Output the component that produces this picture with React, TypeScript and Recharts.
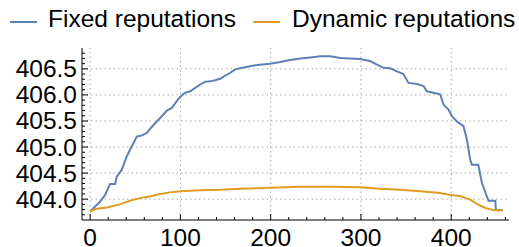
import React from 'react';
import { LineChart, Line, XAxis, YAxis, ReferenceLine } from 'recharts';

// Fixed reputations (blue)
const fixedX = [0, 5.5, 10, 16.6, 22, 27.7, 29.5, 35, 40.6, 46, 51.7, 57, 62.8, 68, 73.8, 79.4, 85, 90.5, 96, 99.7, 105, 110.8, 116, 122, 127, 133, 138.5, 144, 149.6, 155, 160.7, 166, 171.7, 177, 183, 188, 199.4, 210.5, 221.6, 232.7, 243.8, 255, 266, 277, 288, 299, 310, 317.7, 325, 332.4, 339.8, 347, 352.7, 362, 369.3, 373, 380.4, 387.8, 391.5, 397, 400.7, 406.3, 413.6, 417.4, 421, 422.9, 430, 434, 439.5, 441.3, 448.8, 449.5, 457];
const fixedY = [403.76, 403.86, 403.93, 404.08, 404.29, 404.29, 404.43, 404.56, 404.82, 405.01, 405.2, 405.22, 405.27, 405.38, 405.49, 405.59, 405.7, 405.75, 405.88, 405.96, 406.04, 406.07, 406.13, 406.2, 406.25, 406.26, 406.28, 406.31, 406.37, 406.42, 406.49, 406.51, 406.53, 406.55, 406.57, 406.58, 406.6, 406.63, 406.67, 406.7, 406.72, 406.74, 406.74, 406.71, 406.7, 406.69, 406.65, 406.58, 406.52, 406.51, 406.45, 406.4, 406.23, 406.21, 406.17, 406.07, 406.04, 406.01, 405.81, 405.72, 405.59, 405.49, 405.4, 405.14, 404.76, 404.66, 404.66, 404.31, 404.05, 403.97, 403.97, 403.79, 403.79];

// Dynamic reputations (orange)
const dynX = [0, 5.5, 18.5, 33, 44, 55, 66.5, 77.6, 88.6, 99.7, 122, 144, 166, 184.7, 199.4, 232.7, 266, 299, 321, 343.5, 365.7, 387.8, 399, 410, 421, 428.5, 437.7, 447, 457];
const dynY = [403.76, 403.81, 403.84, 403.9, 403.97, 404.02, 404.05, 404.1, 404.13, 404.15, 404.17, 404.18, 404.2, 404.21, 404.22, 404.24, 404.24, 404.23, 404.2, 404.18, 404.15, 404.12, 404.08, 404.06, 403.99, 403.91, 403.83, 403.79, 403.78];

const xMajor = [0, 100, 200, 300, 400];
const xTicks = [0, 20, 40, 60, 80, 100, 120, 140, 160, 180, 200, 220, 240, 260, 280, 300, 320, 340, 360, 380, 400, 420, 440, 460];
const yMajor = [404.0, 404.5, 405.0, 405.5, 406.0, 406.5];
const yTicks = [403.7, 403.8, 403.9, 404.0, 404.1, 404.2, 404.3, 404.4, 404.5, 404.6, 404.7, 404.8, 404.9, 405.0, 405.1, 405.2, 405.3, 405.4, 405.5, 405.6, 405.7, 405.8, 405.9, 406.0, 406.1, 406.2, 406.3, 406.4, 406.5, 406.6, 406.7, 406.8];

const fixedData = fixedX.map((x, i) => ({ x, y: fixedY[i] }));
const dynData = dynX.map((x, i) => ({ x, y: dynY[i] }));

const BLUE = '#5E81B5';
const ORANGE = '#E19C24';
const FONT = '"Liberation Sans", Arial, sans-serif';
const FS = 24.5;
const X_DOMAIN: [number, number] = [-9, 464];
const Y_DOMAIN: [number, number] = [403.6, 406.9];

const isMajor = (list: number[], v: number) => list.some((m) => Math.abs(m - v) < 1e-6);

const LeftTick = (props: any) => {
  const { x, y, payload } = props;
  const major = isMajor(yMajor, payload.value);
  return (
    <g>
      <line x1={x} x2={x + (major ? 6 : 3)} y1={y} y2={y} stroke="#000" />
      {major && (
        <text x={x - 5} y={y + 8.5} textAnchor="end" fontFamily={FONT} fontSize={FS} fill="#000">
          {payload.value.toFixed(1)}
        </text>
      )}
    </g>
  );
};

const RightTick = (props: any) => {
  const { x, y, payload } = props;
  const major = isMajor(yMajor, payload.value);
  return <line x1={x} x2={x - (major ? 6 : 3)} y1={y} y2={y} stroke="#000" />;
};

const BottomTick = (props: any) => {
  const { x, y, payload } = props;
  const major = isMajor(xMajor, payload.value);
  return (
    <g>
      <line x1={x} x2={x} y1={y} y2={y - (major ? 6 : 3)} stroke="#000" />
      {major && (
        <text x={x} y={y + 26} textAnchor="middle" fontFamily={FONT} fontSize={FS} fill="#000">
          {payload.value}
        </text>
      )}
    </g>
  );
};

const TopTick = (props: any) => {
  const { x, y, payload } = props;
  const major = isMajor(xMajor, payload.value);
  return <line x1={x} x2={x} y1={y} y2={y + (major ? 6 : 3)} stroke="#000" />;
};

const App: React.FC = () => {
  return (
    <div style={{ position: 'absolute', left: 0, top: 0, width: 519, height: 247 }}>
      <svg width={519} height={40} style={{ position: 'absolute', left: 0, top: 0 }}>
        <line x1={10} x2={37} y1={22} y2={22} stroke={BLUE} strokeWidth={2} />
        <text x={48} y={27} fontFamily={FONT} fontSize={FS} fill="#000">Fixed reputations</text>
        <line x1={253} x2={280} y1={22} y2={22} stroke={ORANGE} strokeWidth={2} />
        <text x={292} y={27} fontFamily={FONT} fontSize={FS} fill="#000">Dynamic reputations</text>
      </svg>
      <LineChart width={519} height={247} margin={{ top: 48, right: 10, bottom: 0, left: 0 }}>
        <XAxis
          xAxisId="b"
          type="number"
          dataKey="x"
          domain={X_DOMAIN}
          allowDataOverflow
          ticks={xTicks}
          interval={0}
          height={27}
          tickSize={0}
          tickMargin={0}
          tick={<BottomTick />}
          axisLine={{ stroke: '#000' }}
        />
        <XAxis
          xAxisId="t"
          orientation="top"
          type="number"
          dataKey="x"
          domain={X_DOMAIN}
          allowDataOverflow
          ticks={xTicks}
          interval={0}
          height={0}
          tickSize={0}
          tickMargin={0}
          tick={<TopTick />}
          axisLine={{ stroke: '#000' }}
        />
        <YAxis
          yAxisId="l"
          type="number"
          domain={Y_DOMAIN}
          allowDataOverflow
          ticks={yTicks}
          interval={0}
          width={82}
          tickSize={0}
          tickMargin={0}
          tick={<LeftTick />}
          axisLine={{ stroke: '#000' }}
        />
        <YAxis
          yAxisId="r"
          orientation="right"
          type="number"
          domain={Y_DOMAIN}
          allowDataOverflow
          ticks={yTicks}
          interval={0}
          width={0}
          tickSize={0}
          tickMargin={0}
          tick={<RightTick />}
          axisLine={{ stroke: '#000' }}
        />
        {xMajor.map((v) => (
          <ReferenceLine key={'gx' + v} xAxisId="b" yAxisId="l" x={v} stroke="#aaa" strokeDasharray="1.5 3" />
        ))}
        {yMajor.map((v) => (
          <ReferenceLine key={'gy' + v} xAxisId="b" yAxisId="l" y={v} stroke="#aaa" strokeDasharray="1.5 3" />
        ))}
        <Line
          data={fixedData}
          xAxisId="b"
          yAxisId="l"
          dataKey="y"
          type="linear"
          stroke={BLUE}
          strokeWidth={2}
          dot={false}
          isAnimationActive={false}
        />
        <Line
          data={dynData}
          xAxisId="b"
          yAxisId="l"
          dataKey="y"
          type="linear"
          stroke={ORANGE}
          strokeWidth={2}
          dot={false}
          isAnimationActive={false}
        />
      </LineChart>
    </div>
  );
};

export default App;
